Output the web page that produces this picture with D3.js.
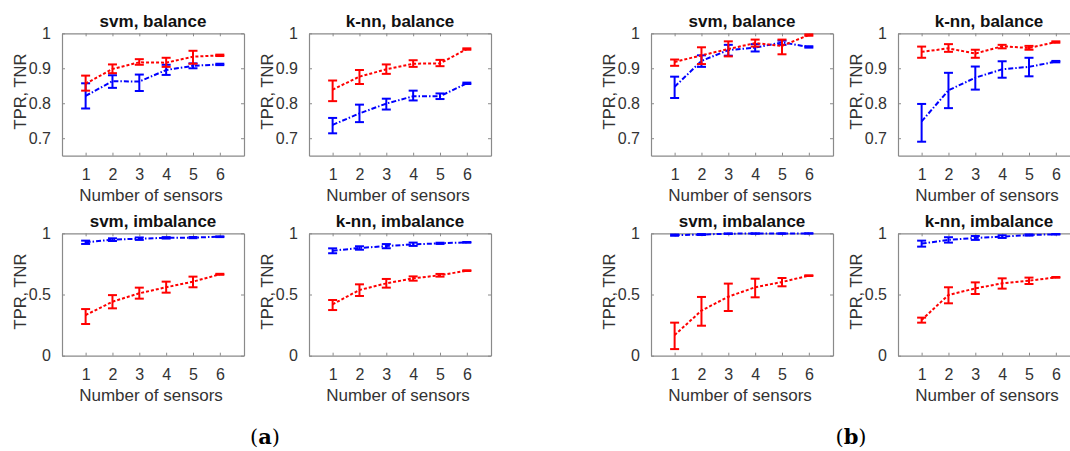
<!DOCTYPE html>
<html>
<head>
<meta charset="utf-8">
<script src="https://cdn.jsdelivr.net/npm/d3@7"></script>
<style>
  body { margin: 0; background: #fff; }
  svg { display: block; font-family: "Liberation Sans", Arial, sans-serif; }
</style>
</head>
<body>
<div id="chart"></div>
<script>
// x values (number of sensors)
const sensors = [1, 2, 3, 4, 5, 6];
const xTicks = [1, 2, 3, 4, 5, 6];
const yTicksBal = [0.7, 0.8, 0.9, 1];
const yTicksImb = [0, 0.5, 1];
const titles = ["svm, balance", "k-nn, balance", "svm, balance", "k-nn, balance",
                "svm, imbalance", "k-nn, imbalance", "svm, imbalance", "k-nn, imbalance"];
const xLabel = "Number of sensors";
const yLabel = "TPR, TNR";
const panelLetters = ["a", "b"];

// (a) svm, balance
const svmBalA_red = [0.856, 0.898, 0.917, 0.916, 0.933, 0.937];
const svmBalA_redLo = [0.836, 0.886, 0.910, 0.904, 0.913, 0.935];
const svmBalA_redHi = [0.879, 0.911, 0.926, 0.930, 0.950, 0.939];
const svmBalA_blue = [0.821, 0.863, 0.862, 0.895, 0.907, 0.911];
const svmBalA_blueLo = [0.785, 0.844, 0.835, 0.881, 0.900, 0.909];
const svmBalA_blueHi = [0.857, 0.880, 0.882, 0.910, 0.914, 0.913];

// (a) k-nn, balance
const knnBalA_red = [0.839, 0.876, 0.897, 0.913, 0.914, 0.955];
const knnBalA_redLo = [0.806, 0.855, 0.884, 0.904, 0.906, 0.953];
const knnBalA_redHi = [0.865, 0.895, 0.911, 0.923, 0.924, 0.957];
const knnBalA_blue = [0.738, 0.771, 0.799, 0.820, 0.820, 0.857];
const knnBalA_blueLo = [0.714, 0.746, 0.782, 0.808, 0.812, 0.855];
const knnBalA_blueHi = [0.758, 0.796, 0.813, 0.836, 0.828, 0.859];

// (b) svm, balance
const svmBalB_red = [0.918, 0.937, 0.955, 0.972, 0.964, 0.995];
const svmBalB_redLo = [0.907, 0.912, 0.934, 0.962, 0.940, 0.993];
const svmBalB_redHi = [0.925, 0.960, 0.977, 0.982, 0.982, 0.997];
const svmBalB_blue = [0.847, 0.921, 0.952, 0.959, 0.974, 0.961];
const svmBalB_blueLo = [0.815, 0.904, 0.936, 0.948, 0.967, 0.959];
const svmBalB_blueHi = [0.876, 0.937, 0.967, 0.969, 0.979, 0.963];

// (b) k-nn, balance
const knnBalB_red = [0.947, 0.957, 0.942, 0.963, 0.958, 0.975];
const knnBalB_redLo = [0.930, 0.947, 0.930, 0.957, 0.953, 0.973];
const knnBalB_redHi = [0.962, 0.969, 0.953, 0.967, 0.964, 0.977];
const knnBalB_blue = [0.748, 0.837, 0.873, 0.897, 0.904, 0.919];
const knnBalB_blueLo = [0.690, 0.786, 0.839, 0.873, 0.877, 0.917];
const knnBalB_blueHi = [0.798, 0.887, 0.905, 0.920, 0.930, 0.921];

// (a) svm, imbalance
const svmImbA_red = [0.332, 0.441, 0.510, 0.559, 0.605, 0.665];
const svmImbA_redLo = [0.259, 0.387, 0.466, 0.515, 0.559, 0.661];
const svmImbA_redHi = [0.381, 0.495, 0.556, 0.605, 0.646, 0.669];
const svmImbA_blue = [0.926, 0.948, 0.956, 0.963, 0.965, 0.972];
const svmImbA_blueLo = [0.913, 0.937, 0.946, 0.957, 0.960, 0.969];
const svmImbA_blueHi = [0.940, 0.959, 0.966, 0.969, 0.970, 0.975];

// (a) k-nn, imbalance
const knnImbA_red = [0.420, 0.537, 0.591, 0.632, 0.657, 0.695];
const knnImbA_redLo = [0.373, 0.488, 0.556, 0.613, 0.646, 0.692];
const knnImbA_redHi = [0.455, 0.583, 0.627, 0.648, 0.668, 0.698];
const knnImbA_blue = [0.858, 0.880, 0.896, 0.910, 0.918, 0.926];
const knnImbA_blueLo = [0.837, 0.866, 0.878, 0.897, 0.913, 0.923];
const knnImbA_blueHi = [0.877, 0.894, 0.912, 0.924, 0.923, 0.929];

// (b) svm, imbalance
const svmImbB_red = [0.169, 0.368, 0.482, 0.559, 0.602, 0.654];
const svmImbB_redLo = [0.054, 0.245, 0.365, 0.477, 0.567, 0.651];
const svmImbB_redHi = [0.270, 0.480, 0.589, 0.629, 0.635, 0.657];
const svmImbB_blue = [0.985, 0.990, 0.997, 0.998, 0.998, 0.999];
const svmImbB_blueLo = [0.980, 0.986, 0.995, 0.996, 0.996, 0.998];
const svmImbB_blueHi = [0.990, 0.994, 0.999, 1.000, 1.000, 1.000];

// (b) k-nn, imbalance
const knnImbB_red = [0.292, 0.496, 0.550, 0.591, 0.613, 0.640];
const knnImbB_redLo = [0.270, 0.428, 0.504, 0.548, 0.586, 0.637];
const knnImbB_redHi = [0.311, 0.559, 0.599, 0.632, 0.638, 0.643];
const knnImbB_blue = [0.916, 0.946, 0.962, 0.973, 0.986, 0.992];
const knnImbB_blueLo = [0.891, 0.924, 0.946, 0.962, 0.981, 0.990];
const knnImbB_blueHi = [0.940, 0.968, 0.978, 0.984, 0.991, 0.994];

const w = 1070;
const h = 451;

const svg = d3.select("#chart").
append("svg").
attr("width", w).
attr("height", h);

// subplot boxes (left edges of the 4 columns, top edges of the 2 rows)
const colLeft = [62, 309, 651, 898];
const rowTop = [33.3, 233.3];
const boxW = 182;
const boxH = 122.4;

const series = (m, lo, hi) => sensors.map((s, i) => ({x: s, y: m[i], lo: lo[i], hi: hi[i]}));

const panels = [
  {t: titles[0], bal: true, red: series(svmBalA_red, svmBalA_redLo, svmBalA_redHi), blue: series(svmBalA_blue, svmBalA_blueLo, svmBalA_blueHi)},
  {t: titles[1], bal: true, red: series(knnBalA_red, knnBalA_redLo, knnBalA_redHi), blue: series(knnBalA_blue, knnBalA_blueLo, knnBalA_blueHi)},
  {t: titles[2], bal: true, red: series(svmBalB_red, svmBalB_redLo, svmBalB_redHi), blue: series(svmBalB_blue, svmBalB_blueLo, svmBalB_blueHi)},
  {t: titles[3], bal: true, red: series(knnBalB_red, knnBalB_redLo, knnBalB_redHi), blue: series(knnBalB_blue, knnBalB_blueLo, knnBalB_blueHi)},
  {t: titles[4], bal: false, red: series(svmImbA_red, svmImbA_redLo, svmImbA_redHi), blue: series(svmImbA_blue, svmImbA_blueLo, svmImbA_blueHi)},
  {t: titles[5], bal: false, red: series(knnImbA_red, knnImbA_redLo, knnImbA_redHi), blue: series(knnImbA_blue, knnImbA_blueLo, knnImbA_blueHi)},
  {t: titles[6], bal: false, red: series(svmImbB_red, svmImbB_redLo, svmImbB_redHi), blue: series(svmImbB_blue, svmImbB_blueLo, svmImbB_blueHi)},
  {t: titles[7], bal: false, red: series(knnImbB_red, knnImbB_redLo, knnImbB_redHi), blue: series(knnImbB_blue, knnImbB_blueLo, knnImbB_blueHi)}
];

const boxCol = "#8a8a8a";
const txtCol = "#333";

panels.forEach((p, k) => {
  const left = colLeft[k % 4];
  const top = rowTop[Math.floor(k / 4)];

  const x = d3.scaleLinear().domain([0.12, 6.9]).range([left, left + boxW]);
  const y = d3.scaleLinear().domain(p.bal ? [0.65, 1] : [0, 1]).range([top + boxH, top]);
  const yTicks = p.bal ? yTicksBal : yTicksImb;

  const g = svg.append("g");

  // axes with inward ticks on all four sides (matlab box)
  const tickLen = 3;
  g.append("g").
  attr("transform", "translate(0," + (top + boxH) + ")").
  call(d3.axisBottom(x).tickValues(xTicks).tickSizeInner(-tickLen).tickSizeOuter(0).tickPadding(13).tickFormat(d3.format("d")));
  g.append("g").
  attr("transform", "translate(0," + top + ")").
  call(d3.axisTop(x).tickValues(xTicks).tickSizeInner(-tickLen).tickSizeOuter(0).tickFormat(""));
  g.append("g").
  attr("transform", "translate(" + left + ",0)").
  call(d3.axisLeft(y).tickValues(yTicks).tickSizeInner(-tickLen).tickSizeOuter(0).tickPadding(11).tickFormat(d => String(d)));
  g.append("g").
  attr("transform", "translate(" + (left + boxW) + ",0)").
  call(d3.axisRight(y).tickValues(yTicks).tickSizeInner(-tickLen).tickSizeOuter(0).tickFormat(""));

  g.selectAll(".domain").attr("stroke", boxCol).attr("stroke-width", 1.2);
  g.selectAll(".tick line").attr("stroke", boxCol);
  g.selectAll(".tick text").attr("fill", txtCol).attr("font-size", 16).attr("font-family", "Liberation Sans, Arial, sans-serif");

  // title
  g.append("text").
  attr("x", left + boxW / 2).
  attr("y", top - 6).
  attr("text-anchor", "middle").
  attr("font-size", 17).
  attr("font-weight", "bold").
  attr("fill", "#111").
  text(p.t);

  // x label
  g.append("text").
  attr("x", left + boxW / 2 - 2).
  attr("y", top + boxH + 45).
  attr("text-anchor", "middle").
  attr("font-size", 17).
  attr("fill", txtCol).
  text(xLabel);

  // y label
  g.append("text").
  attr("transform", "translate(" + (left - 36) + "," + (top + boxH / 2 - 3) + ") rotate(-90)").
  attr("text-anchor", "middle").
  attr("font-size", 16.5).
  attr("fill", txtCol).
  text(yLabel);

  const line = d3.line().x(d => x(d.x)).y(d => y(d.y));

  [["blue", "#0000ff", "5,2,1.5,2"], ["red", "#ff0000", "3,2"]].forEach(([key, col, dash]) => {
    const data = p[key];
    g.append("path").
    datum(data).
    attr("d", line).
    attr("fill", "none").
    attr("stroke", col).
    attr("stroke-width", 2).
    attr("stroke-dasharray", dash);

    const eb = g.selectAll(".eb-" + key).
    data(data).
    enter().
    append("g");

    eb.append("line").
    attr("x1", d => x(d.x)).
    attr("x2", d => x(d.x)).
    attr("y1", d => y(d.lo)).
    attr("y2", d => y(d.hi)).
    attr("stroke", col).
    attr("stroke-width", 2);

    ["lo", "hi"].forEach(end => {
      eb.append("line").
      attr("x1", d => x(d.x) - 4.5).
      attr("x2", d => x(d.x) + 4.5).
      attr("y1", d => y(d[end])).
      attr("y2", d => y(d[end])).
      attr("stroke", col).
      attr("stroke-width", 2);
    });
  });
});

// (a) and (b) labels
const letterX = [265, 851];
panelLetters.forEach((l, i) => {
  const t = svg.append("text").
  attr("x", letterX[i]).
  attr("y", 444).
  attr("text-anchor", "middle").
  attr("font-size", 21).
  attr("font-family", "DejaVu Serif, Liberation Serif, serif").
  attr("fill", "#000");
  t.append("tspan").text("(");
  t.append("tspan").attr("font-weight", "bold").text(l);
  t.append("tspan").text(")");
});
</script>
</body>
</html>
